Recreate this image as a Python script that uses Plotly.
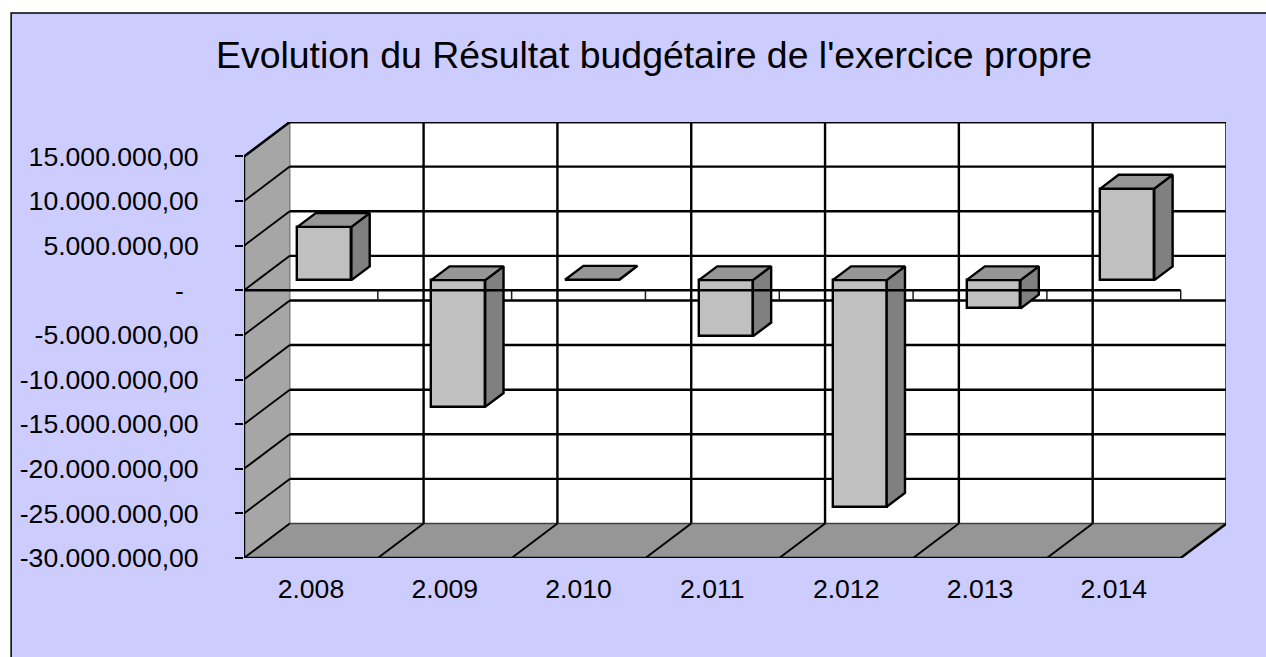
import plotly.graph_objects as go

# ---- data ----
years = ["2.008", "2.009", "2.010", "2.011", "2.012", "2.013", "2.014"]
results = [5970000, -14200000, 50000, -6300000, -25400000, -3170000, 10260000]
tick_values = [15000000, 10000000, 5000000, 0, -5000000, -10000000, -15000000, -20000000, -25000000, -30000000]
tick_labels = ["15.000.000,00", "10.000.000,00", "5.000.000,00", "-\u00a0\u00a0", "-5.000.000,00", "-10.000.000,00",
               "-15.000.000,00", "-20.000.000,00", "-25.000.000,00", "-30.000.000,00"]
title_text = "Evolution du Résultat budgétaire de l'exercice propre"

# ---- layout geometry (pixels of the page) ----
W, H = 1266, 657
PX_L, PX_R, PX_T, PX_B = 243.5, 1226.0, 121.5, 557.7
CAT_PX = (1180.7 - PX_L) / 7
VAL_PX = 45000000 / 401.7
DX = 45.8 / CAT_PX            # depth of the box, in category units
DY = 34.5 * VAL_PX            # depth of the box, in value units
n = len(years)
ymin, ymax = min(tick_values), max(tick_values)
x_range = [0, (PX_R - PX_L) / CAT_PX]
y_range = [ymin, ymin + (PX_B - PX_T) * VAL_PX]

BG, WALL, FLOOR, FRONT, TOP, SIDE = "#CCCCFF", "#A6A6A6", "#969696", "#C0C0C0", "#969696", "#808080"
FONT = "Liberation Sans"
BAR_WIDTH, D0, D1 = 54 / CAT_PX, 0.295, 0.695


def px(v):
    return (v - PX_L) / (PX_R - PX_L)


def py(v):
    return (PX_B - v) / (PX_B - PX_T)


def poly(xs, ys, fill, line="black", width=0, layer="below"):
    path = "M " + " L ".join(f"{a},{b}" for a, b in zip(xs, ys)) + " Z"
    return dict(type="path", path=path, xref="x", yref="y", fillcolor=fill,
                line=dict(color=line, width=width), layer=layer)


def seg(x0, y0, x1, y1, color="black", width=2.4):
    return dict(type="line", xref="x", yref="y", x0=x0, y0=y0, x1=x1, y1=y1,
                line=dict(color=color, width=width), layer="below")


shapes = [
    dict(type="rect", xref="paper", yref="paper", x0=px(10.5), x1=px(W + 20), y0=py(H + 20), y1=py(12.5),
         fillcolor=BG, line=dict(color="black", width=1.5), layer="below"),
    poly([DX, n + DX, n + DX, DX], [ymin + DY, ymin + DY, ymax + DY, ymax + DY], "white"),
    poly([0, DX, DX, 0], [ymin, ymin + DY, ymax + DY, ymax], WALL),
    poly([0, n, n + DX, DX], [ymin, ymin, ymin + DY, ymin + DY], FLOOR),
    seg(DX, ymin + DY, DX, ymax + DY, "#808080", 1.5),
    seg(DX, ymin + DY, n + DX, ymin + DY, "#404040", 1.5),
]
for v in tick_values:
    if v != ymin:
        shapes.append(seg(DX, v + DY, n + DX, v + DY))
    shapes.append(seg(0, v, DX, v + DY, width=1.9))
for k in range(1, n):
    shapes.append(seg(k + DX, ymin + DY, k + DX, ymax + DY))
    shapes.append(seg(k, ymin, k + DX, ymin + DY, width=1.9))

fig = go.Figure()

# front faces
centers = [k + 0.5 + D0 * DX for k in range(n)]
fig.add_trace(go.Bar(x=centers, y=results, base=[D0 * DY] * n, width=BAR_WIDTH,
                     marker=dict(color=FRONT, line=dict(color="black", width=2.4)),
                     showlegend=False, hoverinfo="skip", cliponaxis=False))

# side and top faces
for c, v in zip(centers, results):
    xl, xr = c - BAR_WIDTH / 2, c + BAR_WIDTH / 2
    y0, y1 = D0 * DY, D0 * DY + v
    hi, lo = max(y0, y1), min(y0, y1)
    sx, sy = (D1 - D0) * DX, (D1 - D0) * DY
    fig.add_trace(go.Scatter(x=[xr, xr + sx, xr + sx, xr, xr], y=[lo, lo + sy, hi + sy, hi, lo],
                             mode="lines", fill="toself", fillcolor=SIDE, line=dict(color="black", width=2.4),
                             showlegend=False, hoverinfo="skip", cliponaxis=False))
    fig.add_trace(go.Scatter(x=[xl, xr, xr + sx, xl + sx, xl], y=[hi, hi, hi + sy, hi + sy, hi],
                             mode="lines", fill="toself", fillcolor=TOP, line=dict(color="black", width=2.4),
                             showlegend=False, hoverinfo="skip", cliponaxis=False))

# zero axis with its ticks, drawn over the bars
tick_x, tick_y = [], []
for k in range(1, n + 1):
    tick_x += [k, k, None]
    tick_y += [0, -10 * VAL_PX, None]
fig.add_trace(go.Scatter(x=tick_x, y=tick_y, mode="lines", line=dict(color="#202020", width=1.5),
                         showlegend=False, hoverinfo="skip", cliponaxis=False))
fig.add_trace(go.Scatter(x=[0, n], y=[0, 0], mode="lines", line=dict(color="black", width=2.4),
                         showlegend=False, hoverinfo="skip", cliponaxis=False))

# outer edges of the box
fig.add_trace(go.Scatter(
    x=[DX, 0, 0, n, n + DX, n + DX, DX],
    y=[ymax + DY, ymax, ymin, ymin, ymin + DY, ymax + DY, ymax + DY],
    mode="lines", line=dict(color="black", width=2.4), showlegend=False, hoverinfo="skip", cliponaxis=False))

fig.update_layout(
    width=W, height=H, autosize=False,
    paper_bgcolor="white", plot_bgcolor="rgba(0,0,0,0)",
    margin=dict(l=PX_L, r=W - PX_R, t=PX_T, b=H - PX_B, pad=0),
    font=dict(family=FONT, size=26.6, color="black"),
    title=dict(text=title_text, x=654 / W, xanchor="center", xref="container",
               y=1 - 54.5 / H, yanchor="middle", yref="container",
               font=dict(family=FONT, size=37.4, color="black")),
    shapes=shapes, showlegend=False, bargap=0,
    xaxis=dict(range=x_range, tickmode="array", tickvals=[k + 0.5 for k in range(n)], ticktext=years,
               ticks="", showgrid=False, zeroline=False, showline=False, ticklabelstandoff=12,
               tickfont=dict(family=FONT, size=26.6, color="black"), fixedrange=True),
    yaxis=dict(range=y_range, tickmode="array", tickvals=tick_values, ticktext=tick_labels,
               ticks="outside", ticklen=8, tickwidth=1.5, tickcolor="black", showgrid=False, zeroline=False,
               showline=False, ticklabelstandoff=31,
               tickfont=dict(family=FONT, size=26.6, color="black"), fixedrange=True),
)

fig.write_html("out.html", post_script="document.body.style.margin='0';", config=dict(displayModeBar=False))
